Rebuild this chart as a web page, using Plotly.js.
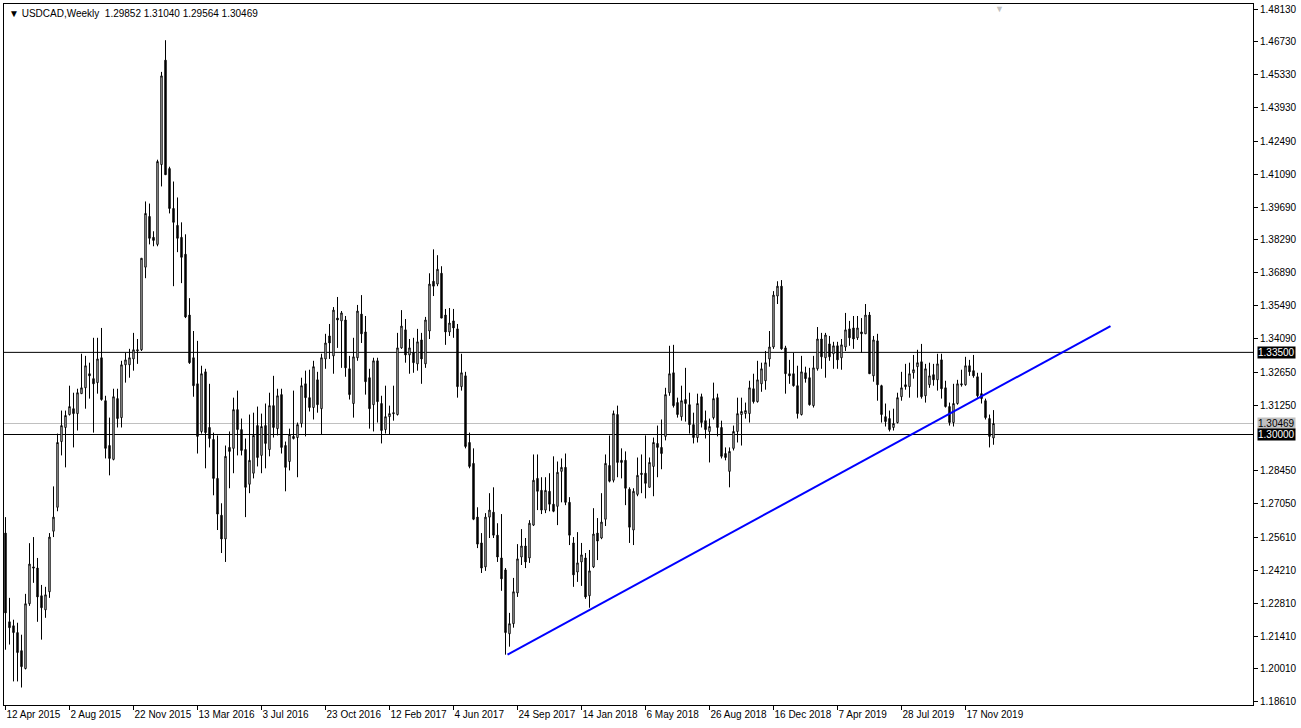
<!DOCTYPE html>
<html>
<head>
<meta charset="utf-8">
<script src="https://cdn.plot.ly/plotly-3.0.1.min.js"></script>
<style>
html,body{margin:0;padding:0;background:#fff;}
#chart{width:1301px;height:728px;}
</style>
</head>
<body>
<div id="chart"></div>
<script>
// Weekly USDCAD candles, first bar = week of 12 Apr 2015
const open = [1.2580,1.2202,1.2185,1.2156,1.2079,1.2003,1.2279,1.2436,1.2431,1.2313,1.2253,1.2330,1.2588,1.2690,1.2970,1.3030,1.3085,1.3110,1.3089,1.3174,
1.3199,1.3259,1.3238,1.3221,1.3327,1.3144,1.2953,1.2894,1.3153,1.3072,1.3297,1.3297,1.3322,1.3356,1.3361,1.3713,1.3929,1.3840,1.3810,1.4150,
1.4595,1.4133,1.3963,1.3891,1.3840,1.3768,1.3509,1.3327,1.3216,1.3013,1.3267,1.3030,1.2979,1.2813,1.2656,1.2555,1.2945,1.2941,1.3106,1.3021,
1.2936,1.2788,1.2835,1.3038,1.2911,1.3038,1.2936,1.3123,1.3025,1.3170,1.2953,1.2885,1.2992,1.2987,1.3047,1.3216,1.3157,1.3115,1.3233,1.3110,
1.3322,1.3420,1.3335,1.3496,1.3484,1.3488,1.3280,1.3132,1.3327,1.3513,1.3437,1.3242,1.3127,1.3314,1.3132,1.3021,1.3076,1.3093,1.3085,1.3369,
1.3446,1.3339,1.3348,1.3301,1.3403,1.3301,1.3441,1.3653,1.3641,1.3687,1.3509,1.3437,1.3484,1.3450,1.3204,1.3250,1.2966,1.2877,1.2648,1.2538,
1.2436,1.2648,1.2669,1.2571,1.2474,1.2423,1.2151,1.2194,1.2325,1.2478,1.2525,1.2474,1.2614,1.2813,1.2762,1.2678,1.2758,1.2703,1.2694,1.2843,
1.2860,1.2711,1.2538,1.2414,1.2457,1.2474,1.2313,1.2436,1.2580,1.2559,1.2639,1.2868,1.2805,1.3085,1.2890,1.2890,1.2767,1.2593,1.2745,1.2835,
1.2835,1.2775,1.2864,1.2962,1.2945,1.2992,1.3178,1.3263,1.3136,1.3076,1.3149,1.3127,1.3042,1.2987,1.3161,1.3059,1.3013,1.3072,1.3157,1.3030,
1.2919,1.2843,1.2941,1.3013,1.3085,1.3089,1.3089,1.3195,1.3140,1.3216,1.3229,1.3322,1.3373,1.3590,1.3632,1.3369,1.3259,1.3259,1.3208,1.3085,
1.3263,1.3242,1.3123,1.3280,1.3407,1.3327,1.3386,1.3344,1.3378,1.3327,1.3373,1.3450,1.3454,1.3412,1.3437,1.3429,1.3509,1.3250,1.3399,1.3208,
1.3076,1.3068,1.3030,1.3051,1.3161,1.3212,1.3204,1.3263,1.3289,1.3310,1.3165,1.3212,1.3255,1.3233,1.3318,1.3199,1.3119,1.3051,1.3132,1.3216,
1.3212,1.3293,1.3272,1.3246,1.3174,1.3144,1.3068,1.29852];
const high = [1.2648,1.2304,1.2211,1.2198,1.2147,1.2321,1.2537,1.2563,1.2474,1.2359,1.2351,1.2580,1.2779,1.3004,1.3102,1.3102,1.3208,1.3178,1.3195,1.3344,
1.3335,1.3306,1.3412,1.3412,1.3454,1.3165,1.3072,1.3195,1.3195,1.3314,1.3348,1.3365,1.3433,1.3407,1.3751,1.3993,1.3984,1.3866,1.4171,1.4545,
1.4680,1.4141,1.4078,1.4010,1.3904,1.3853,1.3581,1.3441,1.3399,1.3293,1.3280,1.3216,1.3008,1.2996,1.2707,1.2953,1.3013,1.3157,1.3187,1.3068,
1.2983,1.3085,1.3093,1.3119,1.3089,1.3132,1.3178,1.3250,1.3195,1.3195,1.2970,1.3025,1.3187,1.3051,1.3242,1.3272,1.3276,1.3314,1.3267,1.3344,
1.3429,1.3471,1.3543,1.3586,1.3526,1.3505,1.3335,1.3412,1.3552,1.3594,1.3505,1.3280,1.3327,1.3327,1.3165,1.3208,1.3123,1.3208,1.3433,1.3530,
1.3492,1.3407,1.3412,1.3450,1.3433,1.3501,1.3687,1.3789,1.3764,1.3717,1.3535,1.3539,1.3535,1.3471,1.3344,1.3267,1.3008,1.2941,1.2690,1.2580,
1.2665,1.2750,1.2775,1.2622,1.2661,1.2431,1.2240,1.2389,1.2533,1.2597,1.2559,1.2635,1.2915,1.2915,1.2818,1.2818,1.2835,1.2907,1.2885,1.2898,
1.2919,1.2733,1.2563,1.2584,1.2538,1.2495,1.2508,1.2686,1.2644,1.2750,1.2915,1.2996,1.3102,1.3123,1.2941,1.2928,1.2775,1.2771,1.2902,1.2915,
1.2996,1.2902,1.2987,1.3038,1.3064,1.3199,1.3378,1.3382,1.3157,1.3208,1.3284,1.3178,1.3093,1.3174,1.3174,1.3102,1.3068,1.3221,1.3174,1.3059,
1.2945,1.2945,1.3038,1.3157,1.3157,1.3136,1.3229,1.3259,1.3314,1.3306,1.3356,1.3441,1.3611,1.3653,1.3658,1.3378,1.3318,1.3348,1.3293,1.3335,
1.3289,1.3284,1.3335,1.3458,1.3433,1.3433,1.3420,1.3395,1.3395,1.3407,1.3518,1.3484,1.3505,1.3505,1.3496,1.3556,1.3522,1.3420,1.3429,1.3212,
1.3132,1.3102,1.3110,1.3178,1.3267,1.3301,1.3306,1.3339,1.3361,1.3386,1.3301,1.3306,1.3301,1.3344,1.3344,1.3229,1.3136,1.3216,1.3233,1.3276,
1.3331,1.3318,1.3339,1.3263,1.3263,1.3153,1.3085,1.31040];
const low = [1.2083,1.2105,1.1948,1.1948,1.1922,1.1999,1.2270,1.2368,1.2202,1.2126,1.2219,1.2304,1.2563,1.2673,1.2911,1.2860,1.3081,1.2945,1.3017,1.3174,
1.3110,1.3153,1.3008,1.3174,1.3144,1.2898,1.2826,1.2890,1.3030,1.3030,1.3221,1.3242,1.3272,1.3301,1.3356,1.3666,1.3810,1.3802,1.3802,1.4057,
1.4107,1.3942,1.3632,1.3777,1.3645,1.3496,1.3301,1.3161,1.2919,1.3004,1.2856,1.2945,1.2741,1.2593,1.2495,1.2457,1.2771,1.2835,1.2911,1.2911,
1.2648,1.2750,1.2813,1.2864,1.2835,1.2856,1.2907,1.2987,1.2996,1.2919,1.2758,1.2847,1.2979,1.2818,1.3030,1.2992,1.3098,1.3064,1.3093,1.3000,
1.3280,1.3322,1.3259,1.3369,1.3284,1.3246,1.3149,1.3072,1.3314,1.3390,1.3170,1.3025,1.3013,1.3051,1.2962,1.3004,1.3000,1.3059,1.3081,1.3365,
1.3306,1.3259,1.3263,1.3272,1.3216,1.3284,1.3407,1.3590,1.3632,1.3496,1.3382,1.3420,1.3412,1.3157,1.3187,1.2941,1.2856,1.2635,1.2516,1.2410,
1.2419,1.2559,1.2559,1.2457,1.2334,1.2062,1.2096,1.2177,1.2308,1.2444,1.2431,1.2453,1.2610,1.2678,1.2661,1.2665,1.2673,1.2669,1.2614,1.2711,
1.2699,1.2529,1.2351,1.2372,1.2355,1.2300,1.2262,1.2431,1.2465,1.2554,1.2610,1.2796,1.2796,1.2818,1.2813,1.2699,1.2538,1.2529,1.2737,1.2750,
1.2728,1.2775,1.2737,1.2818,1.2852,1.2975,1.3165,1.3115,1.3072,1.3059,1.3055,1.3004,1.2962,1.2966,1.3030,1.2983,1.2881,1.3064,1.2992,1.2898,
1.2890,1.2775,1.2932,1.2966,1.2953,1.3068,1.3051,1.3132,1.3136,1.3182,1.3191,1.3289,1.3365,1.3556,1.3361,1.3174,1.3216,1.3204,1.3068,1.3081,
1.3221,1.3123,1.3115,1.3272,1.3280,1.3242,1.3314,1.3280,1.3280,1.3276,1.3356,1.3378,1.3365,1.3403,1.3348,1.3429,1.3259,1.3225,1.3144,1.3051,
1.3034,1.3013,1.3017,1.3047,1.3144,1.3191,1.3157,1.3238,1.3157,1.3153,1.3136,1.3199,1.3208,1.3187,1.3153,1.3115,1.3038,1.3034,1.3127,1.3204,
1.3208,1.3250,1.3242,1.3157,1.3132,1.3064,1.2945,1.29564];
const close = [1.2240,1.2177,1.2156,1.2071,1.2011,1.2279,1.2448,1.2431,1.2308,1.2262,1.2317,1.2563,1.2648,1.2966,1.3038,1.3081,1.3119,1.3089,1.3178,1.3199,
1.3293,1.3250,1.3216,1.3322,1.3149,1.2941,1.2898,1.3161,1.3068,1.3297,1.3318,1.3327,1.3361,1.3361,1.3751,1.3942,1.3836,1.3827,1.4163,1.4528,
1.4107,1.3963,1.3904,1.3836,1.3755,1.3501,1.3306,1.3208,1.2992,1.3259,1.3008,1.2983,1.2813,1.2661,1.2555,1.2907,1.2928,1.3106,1.3021,1.2932,
1.2775,1.2890,1.2996,1.2902,1.3034,1.2962,1.3123,1.3030,1.3165,1.2945,1.2860,1.3000,1.2983,1.3042,1.3208,1.3157,1.3115,1.3289,1.3127,1.3327,
1.3390,1.3390,1.3530,1.3488,1.3518,1.3284,1.3170,1.3331,1.3526,1.3429,1.3225,1.3110,1.3314,1.3140,1.3017,1.3076,1.3089,1.3089,1.3369,1.3462,
1.3339,1.3369,1.3306,1.3395,1.3322,1.3488,1.3641,1.3632,1.3704,1.3496,1.3437,1.3475,1.3454,1.3204,1.3263,1.2949,1.2864,1.2639,1.2533,1.2431,
1.2648,1.2678,1.2571,1.2478,1.2385,1.2156,1.2194,1.2330,1.2470,1.2525,1.2457,1.2622,1.2805,1.2758,1.2678,1.2762,1.2703,1.2673,1.2839,1.2860,
1.2711,1.2571,1.2402,1.2453,1.2487,1.2308,1.2419,1.2576,1.2546,1.2627,1.2877,1.2801,1.3089,1.2881,1.2881,1.2771,1.2605,1.2758,1.2826,1.2830,
1.2792,1.2881,1.2966,1.2945,1.2919,1.3170,1.3259,1.3123,1.3085,1.3144,1.3132,1.3042,1.2987,1.3132,1.3051,1.3021,1.3034,1.3153,1.3030,1.2907,
1.2902,1.2928,1.3013,1.3089,1.3098,1.3102,1.3199,1.3140,1.3233,1.3280,1.3306,1.3373,1.3594,1.3632,1.3365,1.3259,1.3250,1.3208,1.3089,1.3267,
1.3238,1.3127,1.3284,1.3407,1.3331,1.3424,1.3331,1.3378,1.3318,1.3382,1.3446,1.3412,1.3407,1.3454,1.3429,1.3509,1.3259,1.3403,1.3212,1.3085,
1.3055,1.3021,1.3047,1.3157,1.3199,1.3204,1.3259,1.3276,1.3306,1.3161,1.3280,1.3250,1.3233,1.3301,1.3195,1.3119,1.3051,1.3132,1.3216,1.3212,
1.3293,1.3267,1.3250,1.3165,1.3153,1.3072,1.2992,1.30469];

// date labels on the time axis (one every 16 weeks)
const dateLabels = ['12 Apr 2015','2 Aug 2015','22 Nov 2015','13 Mar 2016','3 Jul 2016','23 Oct 2016','12 Feb 2017','4 Jun 2017',
  '24 Sep 2017','14 Jan 2018','6 May 2018','26 Aug 2018','16 Dec 2018','7 Apr 2019','28 Jul 2019','17 Nov 2019'];
const dateLabelWeeks = [0,16,32,48,64,80,96,112,128,144,160,176,192,208,224,240];

// price scale labels
const priceTicks = [1.18610,1.20010,1.21410,1.22810,1.24210,1.25610,1.27050,1.28450,1.31250,1.32650,1.34090,1.35490,
  1.36890,1.38290,1.39690,1.41090,1.42490,1.43930,1.45330,1.46730,1.48130];

// horizontal levels and the rising trend line
const levels = [1.33500, 1.30000];
const bidLevel = 1.30469;
const trendWeeks = [125.5, 276.25];
const trendPrices = [1.2062, 1.3462];
const shiftMarkerWeek = 248.6;

const weeks = open.map((_, i) => i);

const candles = {
  type: 'candlestick',
  x: weeks, open: open, high: high, low: low, close: close,
  increasing: {line: {color: '#000000', width: 1}, fillcolor: '#ffffff'},
  decreasing: {line: {color: '#000000', width: 1}, fillcolor: '#000000'},
  whiskerwidth: 0,
  hoverinfo: 'none',
  showlegend: false
};

const trend = {
  type: 'scatter', mode: 'lines',
  x: trendWeeks, y: trendPrices,
  line: {color: '#0000ff', width: 2},
  hoverinfo: 'none', showlegend: false
};

const shapes = levels.map(v => ({
  type: 'line', xref: 'paper', x0: 0, x1: 1, yref: 'y', y0: v, y1: v,
  line: {color: '#000000', width: 1}, layer: 'below'
}));
shapes.unshift({
  type: 'line', xref: 'paper', x0: 0, x1: 1, yref: 'y', y0: bidLevel, y1: bidLevel,
  line: {color: '#c0c0c0', width: 1}, layer: 'below'
});

const fnt = {family: 'Liberation Sans, Arial, sans-serif', size: 10, color: '#000000'};

const annotations = [
  {xref: 'paper', yref: 'paper', x: 0, y: 1, xanchor: 'left', yanchor: 'top', xshift: 3, yshift: -2,
   text: '\u25BC USDCAD,Weekly  1.29852 1.31040 1.29564 1.30469', showarrow: false, font: fnt},
  {xref: 'x', yref: 'paper', x: shiftMarkerWeek, y: 1, xanchor: 'center', yanchor: 'top', yshift: 2,
   text: '\u25BC', showarrow: false, font: {family: fnt.family, size: 9, color: '#c0c0c0'}},
  {xref: 'paper', yref: 'y', x: 1, y: levels[0], xanchor: 'left', yanchor: 'middle', xshift: 4,
   text: levels[0].toFixed(5), showarrow: false, font: {family: fnt.family, size: 10, color: '#ffffff'},
   bgcolor: '#000000', borderpad: 0},
  {xref: 'paper', yref: 'y', x: 1, y: bidLevel, xanchor: 'left', yanchor: 'middle', xshift: 4,
   text: bidLevel.toFixed(5), showarrow: false, font: {family: fnt.family, size: 10, color: '#000000'},
   bgcolor: '#c0c0c0', borderpad: 0},
  {xref: 'paper', yref: 'y', x: 1, y: levels[1], xanchor: 'left', yanchor: 'middle', xshift: 4,
   text: levels[1].toFixed(5), showarrow: false, font: {family: fnt.family, size: 10, color: '#ffffff'},
   bgcolor: '#000000', borderpad: 0}
];

const layout = {
  width: 1301, height: 728,
  margin: {l: 4, r: 48, t: 4, b: 23},
  paper_bgcolor: '#ffffff', plot_bgcolor: '#ffffff',
  font: fnt,
  showlegend: false,
  dragmode: false,
  boxgap: 0.5,
  xaxis: {
    type: 'linear', range: [-0.375, 311.875],
    rangeslider: {visible: false},
    showgrid: false, zeroline: false,
    showline: true, linecolor: '#000000', linewidth: 1, mirror: true,
    tickmode: 'array', tickvals: dateLabelWeeks, ticktext: dateLabels,
    ticks: 'outside', ticklen: 4, tickcolor: '#000000',
    ticklabelposition: 'outside right',
    tickangle: 0,
    tickfont: fnt
  },
  yaxis: {
    side: 'right', range: [1.18475, 1.48343],
    showgrid: false, zeroline: false,
    showline: true, linecolor: '#000000', linewidth: 1, mirror: true,
    tickmode: 'array', tickvals: priceTicks, ticktext: priceTicks.map(v => v.toFixed(5)),
    ticks: 'outside', ticklen: 4, tickcolor: '#000000',
    tickfont: fnt
  },
  shapes: shapes,
  annotations: annotations
};

Plotly.newPlot('chart', [candles, trend], layout, {displayModeBar: false, staticPlot: true});
</script>
</body>
</html>
